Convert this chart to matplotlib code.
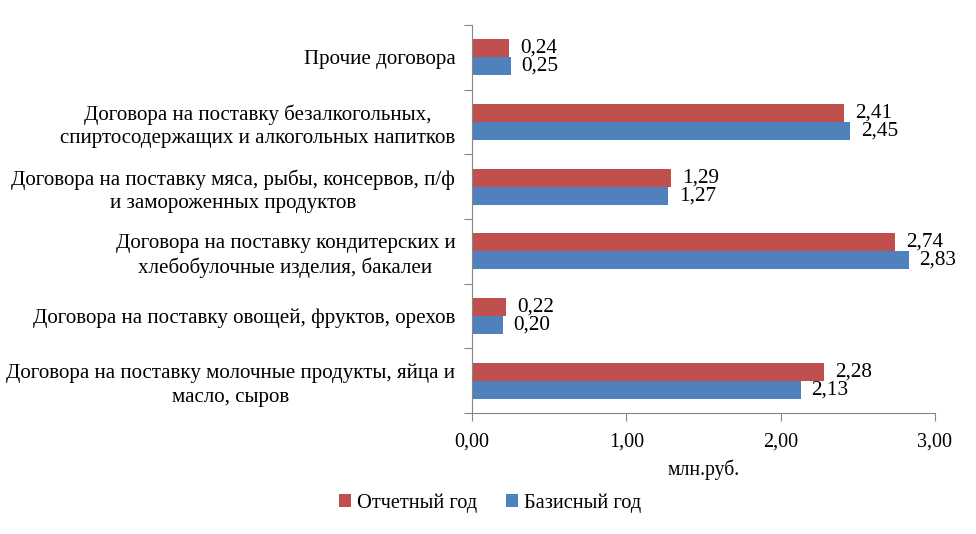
import matplotlib
matplotlib.use("Agg")
import matplotlib.pyplot as plt
import numpy as np

categories = [
    "Договора на поставку молочные продукты, яйца и\nмасло, сыров",
    "Договора на поставку овощей, фруктов, орехов",
    "Договора на поставку кондитерских и\nхлебобулочные изделия, бакалеи",
    "Договора на поставку мяса, рыбы, консервов, п/ф\nи замороженных продуктов",
    "Договора на поставку безалкогольных,\nспиртосодержащих и алкогольных напитков",
    "Прочие договора",
]
report_year = [2.28, 0.22, 2.74, 1.29, 2.41, 0.24]
base_year = [2.13, 0.20, 2.83, 1.27, 2.45, 0.25]
series_names = ["Отчетный год", "Базисный год"]
xticks = [0, 1, 2, 3]

plt.rcParams['font.family'] = ['Liberation Serif', 'DejaVu Serif']

fig = plt.figure(figsize=(9.76, 5.34), dpi=100)
ax = fig.add_axes([472/976, 1-413/534, (935-472)/976, (413-25)/534])

red = "#C0504D"
blue = "#4F81BD"
h = 0.278
y = np.arange(len(categories))
b1 = ax.barh(y + h/2, report_year, height=h, color=red, label=series_names[0])
b2 = ax.barh(y - h/2, base_year, height=h, color=blue, label=series_names[1])

for rect, v in zip(b1, report_year):
    ax.text(v + 0.07, rect.get_y() + rect.get_height()/2, f"{v:.2f}".replace('.', ','),
            va='center', ha='left', fontsize=15.3)
for rect, v in zip(b2, base_year):
    ax.text(v + 0.07, rect.get_y() + rect.get_height()/2, f"{v:.2f}".replace('.', ','),
            va='center', ha='left', fontsize=15.3)

ax.set_xlim(0, 3)
ax.set_ylim(-0.5, len(categories) - 0.5)
ax.set_xticks(xticks)
ax.set_xticklabels([f"{t:.2f}".replace('.', ',') for t in xticks], fontsize=14.5)
ax.set_yticks(np.arange(-0.5, len(categories)), minor=False)
ax.set_yticklabels([])
ax.set_yticks(y, minor=True)
ax.set_yticklabels(categories, minor=True, fontsize=15.1, multialignment='center')
ax.tick_params(axis='y', which='minor', length=0, pad=12)
ax.tick_params(axis='y', which='major', length=6, color='#868686', direction='out')
ax.tick_params(axis='x', length=6, color='#868686', direction='out', pad=8)
for t in ax.yaxis.get_minorticklabels():
    t.set_linespacing(1.3)

for s in ['top', 'right']:
    ax.spines[s].set_visible(False)
for s in ['left', 'bottom']:
    ax.spines[s].set_color('#868686')

ax.set_xlabel("млн.руб.", fontsize=14.2, labelpad=6)

fig.legend(handles=[b1, b2], labels=series_names, loc='center', bbox_to_anchor=(490/976, 1-503/534),
           ncol=2, frameon=False, fontsize=14.7, handlelength=0.6, handleheight=0.6,
           handletextpad=0.3, columnspacing=1.4)

fig.savefig("out.png", dpi=100)
